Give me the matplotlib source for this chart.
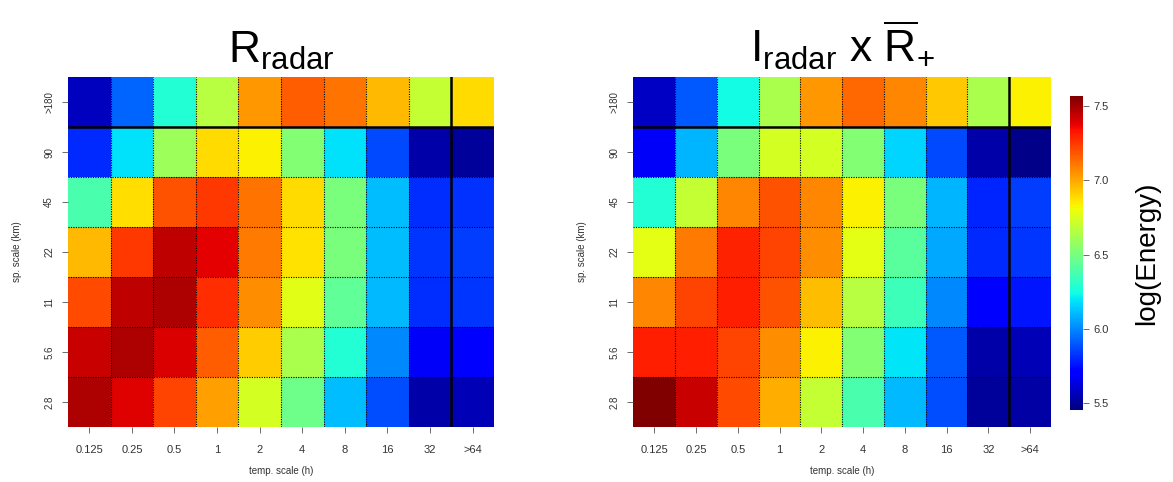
import numpy as np
import matplotlib
matplotlib.use("Agg")
import matplotlib.pyplot as plt

plt.rcParams["font.family"] = ["Liberation Sans", "DejaVu Sans"]
plt.rcParams["mathtext.fontset"] = "custom"
plt.rcParams["mathtext.rm"] = "Liberation Sans"
plt.rcParams["mathtext.it"] = "Liberation Sans"

temp_labels = ["0.125", "0.25", "0.5", "1", "2", "4", "8", "16", "32", ">64"]
sp_labels = ["2.8", "5.6", "11", "22", "45", "90", ">180"]

# rows listed bottom (2.8 km) to top (>180 km)
r_radar = [
    [7.48, 7.39, 7.23, 7.02, 6.74, 6.47, 6.11, 5.88, 5.53, 5.55],
    [7.43, 7.48, 7.40, 7.17, 6.92, 6.63, 6.28, 6.00, 5.68, 5.70],
    [7.21, 7.45, 7.48, 7.28, 7.06, 6.77, 6.44, 6.10, 5.81, 5.83],
    [6.96, 7.25, 7.45, 7.38, 7.10, 6.87, 6.51, 6.11, 5.83, 5.84],
    [6.38, 6.88, 7.19, 7.25, 7.12, 6.89, 6.51, 6.11, 5.81, 5.82],
    [5.80, 6.18, 6.60, 6.89, 6.84, 6.53, 6.18, 5.87, 5.53, 5.50],
    [5.57, 5.93, 6.28, 6.66, 7.04, 7.17, 7.12, 6.96, 6.70, 6.89],
]
i_radar_rbar = [
    [7.57, 7.43, 7.21, 6.99, 6.70, 6.38, 6.10, 5.88, 5.50, 5.52],
    [7.31, 7.31, 7.23, 7.06, 6.84, 6.53, 6.19, 5.90, 5.53, 5.55],
    [7.08, 7.23, 7.31, 7.19, 6.95, 6.66, 6.35, 6.00, 5.70, 5.76],
    [6.78, 7.10, 7.30, 7.23, 7.06, 6.78, 6.42, 6.07, 5.80, 5.83],
    [6.28, 6.70, 7.08, 7.19, 7.08, 6.84, 6.51, 6.09, 5.79, 5.84],
    [5.68, 6.09, 6.51, 6.74, 6.74, 6.53, 6.16, 5.87, 5.53, 5.47],
    [5.58, 5.90, 6.24, 6.63, 7.04, 7.14, 7.08, 6.93, 6.63, 6.84],
]
vmin, vmax = 5.45, 7.57

fig = plt.figure(figsize=(11.73, 4.82), dpi=100)
ax1 = fig.add_axes([0.058, 0.114, 0.363, 0.726])
ax2 = fig.add_axes([0.540, 0.114, 0.356, 0.726])
cax = fig.add_axes([0.912, 0.149, 0.011, 0.652])

titles = [r"$\mathrm{R}_{\mathrm{radar}}$",
          r"$\mathrm{I}_{\mathrm{radar}}\ \mathrm{x}\ \overline{\mathrm{R}}_{+}$"]

for ax, data, title in zip([ax1, ax2], [r_radar, i_radar_rbar], titles):
    z = np.array(data)
    nr, nc = z.shape
    mesh = ax.pcolormesh(np.arange(nc + 1), np.arange(nr + 1), z,
                         cmap="jet", vmin=vmin, vmax=vmax)
    # dotted cell borders
    for k in range(1, nc):
        if k != nc - 1:
            ax.axvline(k, color="black", lw=0.8, ls=(0, (1, 1.2)))
    for k in range(1, nr):
        if k != nr - 1:
            ax.axhline(k, color="black", lw=0.8, ls=(0, (1, 1.2)))
    # solid separators for the open-ended classes
    ax.axvline(nc - 1, color="black", lw=1.8)
    ax.axhline(nr - 1, color="black", lw=1.8)
    ax.set_xlim(0, nc)
    ax.set_ylim(0, nr)
    for s in ax.spines.values():
        s.set_visible(False)
    ax.set_xticks(np.arange(nc) + 0.5)
    ax.set_xticklabels(temp_labels, fontsize=8, color="#333333")
    ax.set_yticks(np.arange(nr) + 0.5)
    ax.set_yticklabels(sp_labels, fontsize=7, color="#333333",
                       rotation=90, va="center")
    ax.tick_params(axis="both", length=4, width=0.6, colors="#555555",
                   labelcolor="#333333")
    ax.tick_params(axis="x", pad=9)
    ax.tick_params(axis="y", pad=6)
    ax.set_xlabel("temp. scale (h)", fontsize=7, color="#333333", labelpad=8)
    ax.set_ylabel("sp. scale (km)", fontsize=7, color="#333333", labelpad=16)
    ax.set_title(title, fontsize=32, pad=10)

cb = fig.colorbar(mesh, cax=cax, ticks=[5.5, 6.0, 6.5, 7.0, 7.5])
cb.outline.set_visible(False)
cb.ax.tick_params(labelsize=8, length=4, width=0.6, colors="#555555",
                  labelcolor="#333333")
cb.ax.set_yticklabels(["5.5", "6.0", "6.5", "7.0", "7.5"])
fig.text(0.978, 0.475, "log(Energy)", rotation=90, fontsize=20,
         ha="center", va="center")

fig.savefig("out.png", dpi=100)
